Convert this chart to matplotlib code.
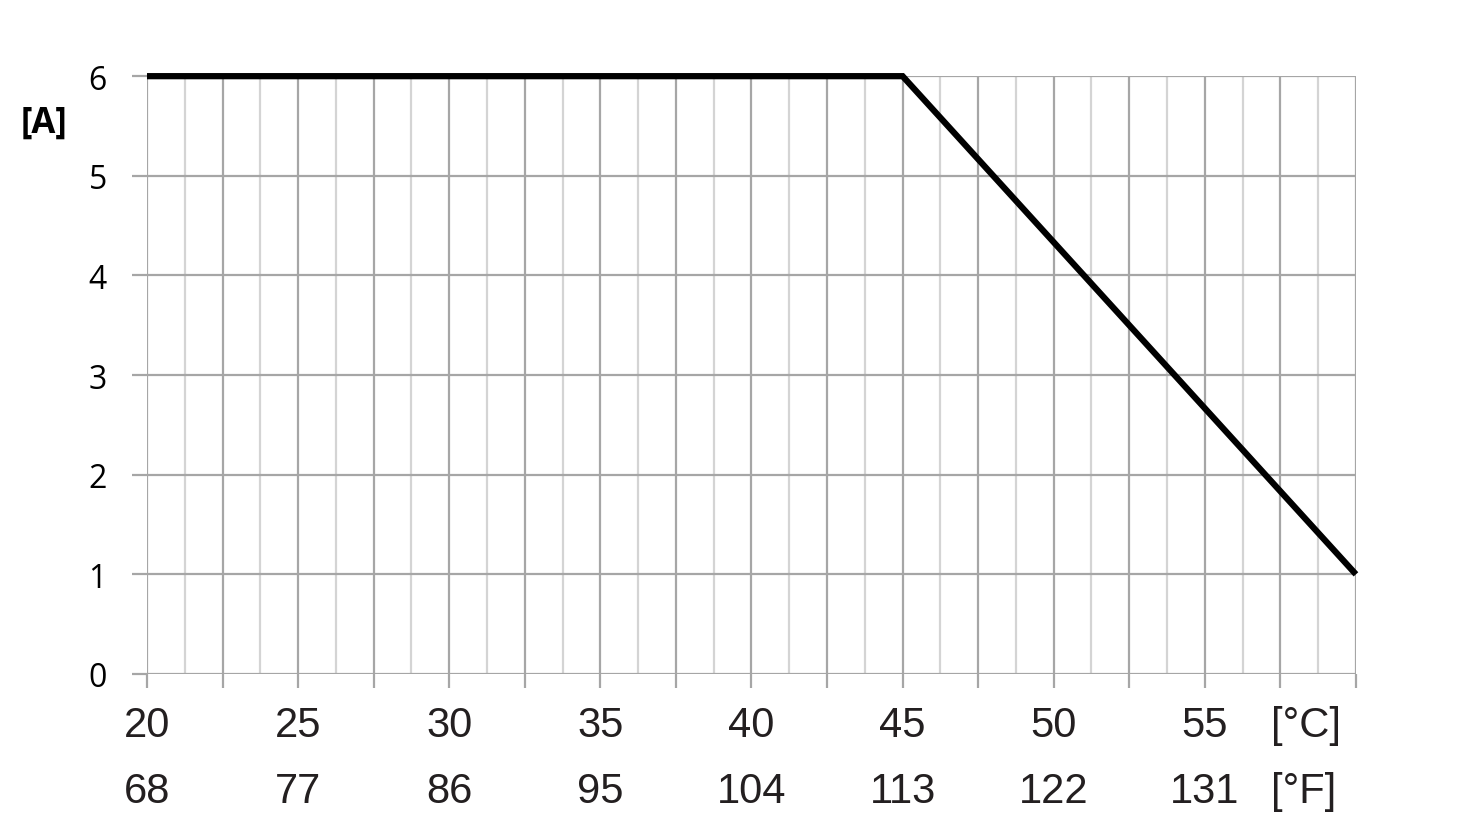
import matplotlib.pyplot as plt
import numpy as np

# derating curve: current [A] vs ambient temperature [°C]
temp_c = [20, 45, 60]
current_a = [6, 6, 1]

# axis labelling
c_labels = [20, 25, 30, 35, 40, 45, 50, 55]
f_labels = [68, 77, 86, 95, 104, 113, 122, 131]
y_ticks = [0, 1, 2, 3, 4, 5, 6]

plt.rcParams['font.family'] = ['Liberation Sans', 'DejaVu Sans']

fig = plt.figure(figsize=(14.64, 8.28), dpi=100)
ax = fig.add_axes([0.1004, 0.1848, 0.8258, 0.7220])

ax.set_xlim(20, 60)
ax.set_ylim(0, 6)

# grid: light lines every 1.25 °C, darker every 2.5 °C
for x in np.arange(20, 60.01, 1.25):
    major = abs((x - 20) / 2.5 - round((x - 20) / 2.5)) < 1e-6
    ax.axvline(x, color='#a6a6a6' if major else '#d4d4d4', lw=1.6, zorder=1)
for y in y_ticks:
    ax.axhline(y, color='#a6a6a6', lw=1.6, zorder=1)

ax.plot(temp_c, current_a, color='black', lw=4.5, solid_capstyle='butt',
        solid_joinstyle='miter', zorder=3, clip_on=False)

for s in ax.spines.values():
    s.set_visible(False)

ax.set_xticks(np.arange(20, 60.01, 2.5))
ax.set_xticklabels([])
ax.set_yticks(y_ticks)
ax.set_yticklabels([str(v) for v in y_ticks], fontsize=23,
                   family=['Open Sans', 'DejaVu Sans'])
ax.tick_params(axis='x', length=10, width=1.6, color='#a6a6a6')
ax.tick_params(axis='y', length=11, width=1.6, color='#a6a6a6', pad=18)

tr = ax.get_xaxis_transform()
for c, f in zip(c_labels, f_labels):
    ax.text(c, -0.085, str(c), transform=tr, ha='center', va='center',
            fontsize=30, color='#231f20')
    ax.text(c, -0.195, str(f), transform=tr, ha='center', va='center',
            fontsize=30, color='#231f20')
ax.text(57.2, -0.085, '[°C]', transform=tr, ha='left', va='center',
        fontsize=30, color='#231f20')
ax.text(57.2, -0.195, '[°F]', transform=tr, ha='left', va='center',
        fontsize=30, color='#231f20')

fig.text(0.030, 0.850, '[A]', ha='center', va='center', fontsize=25,
         fontweight='bold', family=['Open Sans', 'DejaVu Sans'])

fig.savefig('out.png', dpi=100, facecolor='white')
